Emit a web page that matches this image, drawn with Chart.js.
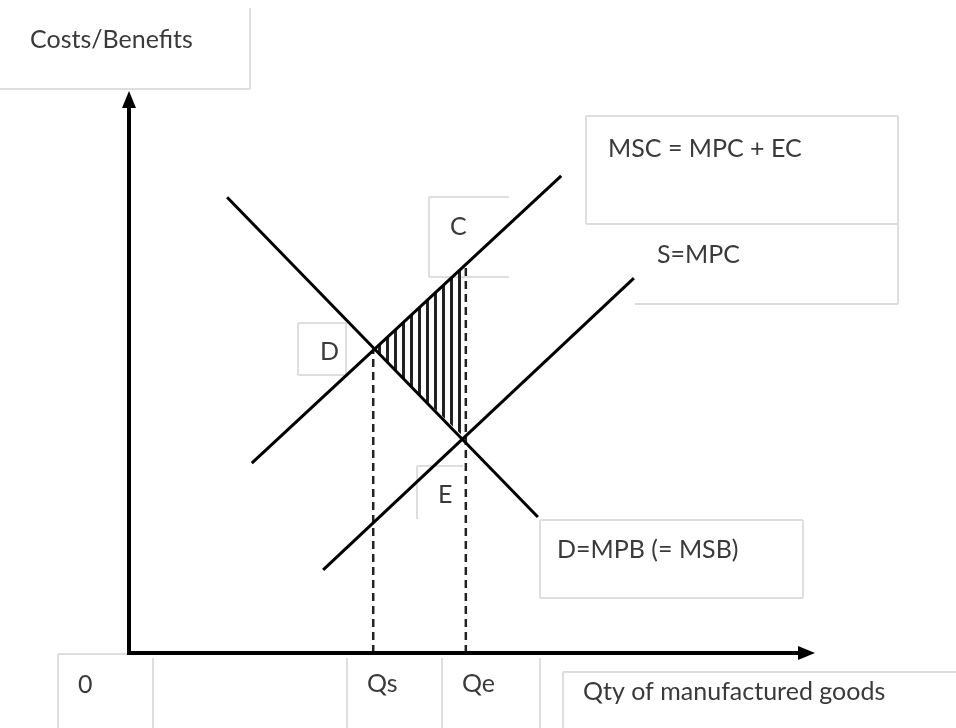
<!DOCTYPE html>
<html>
<head>
<meta charset="utf-8">
<script src="https://cdn.jsdelivr.net/npm/chart.js@4/dist/chart.umd.min.js"></script>
<style>
  html, body { margin: 0; padding: 0; background: #fff; }
  #wrap { width: 956px; height: 728px; }
</style>
</head>
<body>
<div id="wrap"><canvas id="chart" width="956" height="728"></canvas></div>
<script>
// curves (x: quantity 0-100, y: costs/benefits 0-100)
const curveNames = ['MSC = MPC + EC', 'S=MPC', 'D=MPB (= MSB)'];
const mscX = [17.9, 63.0];
const mscY = [33.8, 84.9];
const mpcX = [28.3, 73.6];
const mpcY = [14.8, 66.7];
const demandX = [14.3, 59.6];
const demandY = [81.1, 24.2];

// quantity ticks
const qLabels = ['0', 'Qs', 'Qe'];
const qValues = [0, 35.6, 49.1];

// corners of the welfare-loss triangle
const pointNames = ['D', 'C', 'E'];
const pointX = [35.6, 49.1, 49.1];
const pointY = [54.1, 69.2, 38.1];

const axisTitles = ['Costs/Benefits', 'Qty of manufactured goods'];

const toPts = (xs, ys) => xs.map((x, i) => ({ x: x, y: ys[i] }));

// text boxes (pixels): text position, box rect and which edges show (t r b l)
const FONT = '25px Lato';
const boxes = [
    { text: axisTitles[0], tx: 30, ty: 48, r: [-2, 8, 252, 81], e: 'rb' },
    { text: curveNames[0], tx: 608, ty: 157, r: [586, 116, 312, 108], e: 'trbl' },
    { text: curveNames[1], tx: 657, ty: 263, r: [635, 224, 263, 80], e: 'rb' },
    { text: pointNames[1], tx: 450, ty: 235, r: [429, 197, 80, 80], e: 'tbl' },
    { text: pointNames[0], tx: 320, ty: 360, r: [298, 323, 48, 52], e: 'trbl' },
    { text: pointNames[2], tx: 438, ty: 503, r: [417, 466, 46, 53], e: 'tl' },
    { text: curveNames[2], tx: 557, ty: 558, r: [540, 520, 263, 78], e: 'trbl' },
    { text: qLabels[0], tx: 78, ty: 693, r: [58, 654, 95, 80], e: 'tl' },
    { text: '', tx: 0, ty: 0, r: [153, 658, 194, 80], e: 'l' },
    { text: qLabels[1], tx: 367, ty: 692, r: [347, 658, 95, 80], e: 'l' },
    { text: qLabels[2], tx: 462, ty: 692, r: [442, 658, 98, 80], e: 'lr' },
    { text: axisTitles[1], tx: 583, ty: 700, r: [563, 672, 400, 60], e: 'tl' }
];

const boxPlugin = {
    id: 'boxes',
    beforeDatasetsDraw(chart) {
        const ctx = chart.ctx;
        ctx.save();
        ctx.fillStyle = '#fff';
        ctx.fillRect(0, 0, chart.width, chart.height);
        ctx.strokeStyle = '#dedede';
        ctx.lineWidth = 2;
        boxes.forEach(b => {
            const [x, y, w, h] = b.r;
            const seg = (x1, y1, x2, y2) => {
                ctx.beginPath();
                ctx.moveTo(x1, y1);
                ctx.lineTo(x2, y2);
                ctx.stroke();
            };
            if (b.e.includes('t')) seg(x, y, x + w, y);
            if (b.e.includes('r')) seg(x + w, y, x + w, y + h);
            if (b.e.includes('b')) seg(x, y + h, x + w, y + h);
            if (b.e.includes('l')) seg(x, y, x, y + h);
        });
        ctx.fillStyle = '#3a3a3a';
        ctx.font = FONT;
        ctx.textBaseline = 'alphabetic';
        boxes.forEach(b => { if (b.text) ctx.fillText(b.text, b.tx, b.ty); });
        ctx.restore();
    }
};

const axisPlugin = {
    id: 'arrowAxes',
    afterDatasetsDraw(chart) {
        const ctx = chart.ctx;
        const xs = chart.scales.x, ys = chart.scales.y;
        const x0 = xs.getPixelForValue(0), xEnd = xs.getPixelForValue(100);
        const y0 = ys.getPixelForValue(0), yEnd = ys.getPixelForValue(100);
        ctx.save();
        ctx.strokeStyle = '#000';
        ctx.fillStyle = '#000';
        ctx.lineWidth = 4;
        ctx.beginPath();
        ctx.moveTo(x0, yEnd + 12);
        ctx.lineTo(x0, y0);
        ctx.lineTo(xEnd - 12, y0);
        ctx.stroke();
        // arrow heads
        ctx.beginPath();
        ctx.moveTo(x0, yEnd);
        ctx.lineTo(x0 - 7, yEnd + 17);
        ctx.lineTo(x0 + 7, yEnd + 17);
        ctx.closePath();
        ctx.fill();
        ctx.beginPath();
        ctx.moveTo(xEnd, y0);
        ctx.lineTo(xEnd - 17, y0 - 7);
        ctx.lineTo(xEnd - 17, y0 + 7);
        ctx.closePath();
        ctx.fill();
        ctx.restore();
    }
};

function hatchPattern() {
    const c = document.createElement('canvas');
    c.width = 8;
    c.height = 4;
    const g = c.getContext('2d');
    g.fillStyle = '#222';
    g.fillRect(2, 0, 3, 4);
    return document.getElementById('chart').getContext('2d').createPattern(c, 'repeat');
}

const solid = { showLine: true, borderColor: '#000', borderWidth: 3, pointRadius: 0, fill: false };
const dashed = { showLine: true, borderColor: '#222', borderWidth: 2.5, borderDash: [8, 5], pointRadius: 0, fill: false };

const triangle = toPts(pointX, pointY);
triangle.push(triangle[0]);

new Chart(document.getElementById('chart'), {
    type: 'scatter',
    data: {
        datasets: [
            Object.assign({ label: curveNames[0], data: toPts(mscX, mscY) }, solid),
            Object.assign({ label: curveNames[1], data: toPts(mpcX, mpcY) }, solid),
            Object.assign({ label: curveNames[2], data: toPts(demandX, demandY) }, solid),
            Object.assign({ label: qLabels[1], data: [{ x: qValues[1], y: 0 }, { x: pointX[0], y: pointY[0] }], order: 5 }, dashed),
            Object.assign({ label: qLabels[2], data: [{ x: qValues[2], y: 0 }, { x: pointX[1], y: pointY[1] }], order: 5 }, dashed),
            {
                label: 'loss',
                data: triangle,
                showLine: true,
                borderWidth: 0,
                borderColor: 'rgba(0,0,0,0)',
                pointRadius: 0,
                fill: 'shape',
                backgroundColor: hatchPattern(),
                order: 10
            }
        ]
    },
    options: {
        responsive: false,
        animation: false,
        layout: { padding: { left: 129, right: 141, top: 91, bottom: 75 } },
        scales: {
            x: { type: 'linear', min: 0, max: 100, display: false },
            y: { type: 'linear', min: 0, max: 100, display: false }
        },
        plugins: { legend: { display: false }, tooltip: { enabled: false } }
    },
    plugins: [boxPlugin, axisPlugin]
});
</script>
</body>
</html>
